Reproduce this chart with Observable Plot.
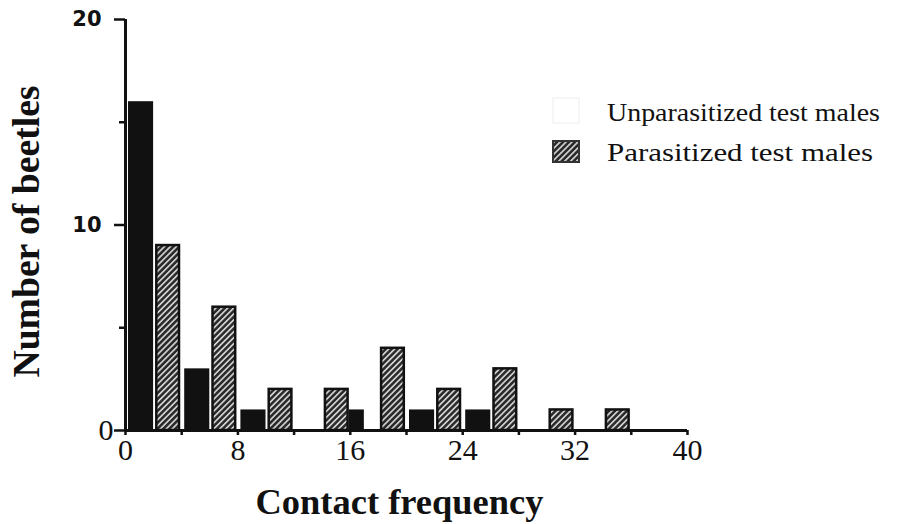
<!DOCTYPE html>
<html>
<head>
<meta charset="utf-8">
<script src="https://cdn.jsdelivr.net/npm/d3@7"></script>
<script src="https://cdn.jsdelivr.net/npm/@observablehq/plot@0.6"></script>
<style>
  body { margin: 0; background: #fff; }
  #chart { position: relative; width: 912px; height: 524px; }
  #chart svg { display: block; }
  #legend { position: absolute; left: 0; top: 0; pointer-events: none; }
</style>
</head>
<body>
<div id="chart"></div>
<script>
// Contact frequency histogram, 4-unit bins: unparasitized bars fill the left half
// of each bin, parasitized bars the right half.
const unparLo    = [0, 4, 8, 15.7, 20, 24];
const unparHi    = [2, 6, 10, 17.0, 22, 26];
const unparCount = [16, 3, 1, 1, 1, 1];

const parLo    = [2, 6, 10, 14, 18, 22, 26, 30, 34];
const parHi    = [4, 8, 12, 16, 20, 24, 28, 32, 36];
const parCount = [9, 6, 2, 2, 4, 2, 3, 1, 1];

const xDomain   = [0, 40];
const yDomain   = [0, 20];
const xTicks    = [0, 4, 8, 12, 16, 20, 24, 28, 32, 36, 40];
const xLabelled = [0, 8, 16, 24, 32, 40];
const yMajor    = [10, 20];
const yZero     = [0];
const yMinor    = [5, 15];

const seriesNames = ["Unparasitized test males", "Parasitized test males"];
const xTitle = "Contact frequency";
const yTitle = "Number of beetles";

const unparasitized = unparLo.map((lo, i) => ({lo, hi: unparHi[i], count: unparCount[i]}));
const parasitized = parLo.map((lo, i) => ({lo, hi: parHi[i], count: parCount[i]}));

const INK = "#111";
const SERIF = "'Liberation Serif', 'Times New Roman', serif";
const SANS = "'DejaVu Sans', sans-serif";

// Diagonal hatch fill shared by the bars and the legend swatch
function hatchDefs() {
  const svgNS = "http://www.w3.org/2000/svg";
  const defs = document.createElementNS(svgNS, "defs");
  defs.innerHTML = `
    <pattern id="hatch" patternUnits="userSpaceOnUse" width="4.2" height="4.2" patternTransform="rotate(45)">
      <rect width="4.2" height="4.2" fill="#2a2a2a"></rect>
      <rect x="0" width="1.7" height="4.2" fill="#cfcfcf"></rect>
    </pattern>`;
  return defs;
}

const plot = Plot.plot({
  width: 912,
  height: 524,
  marginLeft: 125,
  marginRight: 225,
  marginTop: 19,
  marginBottom: 94,
  x: {domain: xDomain},
  y: {domain: yDomain},
  style: {background: "white", color: INK, overflow: "visible"},
  marks: [
    hatchDefs,
    Plot.rect(parasitized, {
      x1: "lo", x2: "hi", y1: 0, y2: "count",
      fill: "url(#hatch)", stroke: INK, strokeWidth: 2.5,
      insetLeft: 3.2, insetRight: 2.2
    }),
    Plot.rect(unparasitized, {
      x1: "lo", x2: "hi", y1: 0, y2: "count",
      fill: INK, insetLeft: 3
    }),
    // axis lines
    Plot.ruleY([yDomain[0]], {x1: xDomain[0], x2: xDomain[1], stroke: INK, strokeWidth: 3}),
    Plot.ruleX([xDomain[0]], {y1: yDomain[0], y2: yDomain[1], stroke: INK, strokeWidth: 3}),
    // x axis: a tick every 4, labels every 8
    Plot.axisX(xTicks, {
      tickSize: 5, tickPadding: 3, strokeWidth: 2.5,
      tickFormat: d => xLabelled.includes(d) ? String(d) : "",
      fontSize: 30, fontFamily: SERIF, label: null
    }),
    // y axis
    Plot.axisY(yMajor, {
      tickSize: 11, tickPadding: 13, strokeWidth: 2.5,
      fontSize: 21, fontWeight: "bold", fontFamily: SANS, label: null
    }),
    Plot.axisY(yZero, {
      tickSize: 11, tickPadding: 1, strokeWidth: 2.5,
      fontSize: 30, fontFamily: SERIF, label: null
    }),
    Plot.axisY(yMinor, {
      tickSize: 6, strokeWidth: 2.5, tickFormat: () => "", label: null
    }),
    // axis titles
    Plot.text([xTitle], {
      frameAnchor: "bottom", lineAnchor: "bottom", textAnchor: "middle", dx: -7, dy: 83,
      fontSize: 36, fontWeight: "bold", fontFamily: SERIF, fill: INK
    }),
    Plot.text([yTitle], {
      frameAnchor: "left", lineAnchor: "bottom", textAnchor: "middle", rotate: -90, dx: -87, dy: 6.5,
      fontSize: 37, fontWeight: "bold", fontFamily: SERIF, fill: INK
    })
  ]
});

// Fit the axis titles to their set lengths
function fitText(root, content, length) {
  root.querySelectorAll("text").forEach(t => {
    if (t.textContent === content) {
      t.setAttribute("textLength", length);
      t.setAttribute("lengthAdjust", "spacingAndGlyphs");
    }
  });
}
fitText(plot, xTitle, 288);
fitText(plot, yTitle, 292);

const chart = document.getElementById("chart");
chart.appendChild(plot);

// Legend
const legend = d3.select(chart).append("svg")
  .attr("id", "legend")
  .attr("width", 912)
  .attr("height", 524);

const legendItems = [
  {name: seriesNames[0], fill: "#fff", stroke: "#eee", strokeWidth: 1, sy: 98, sh: 25, baseline: 121, len: 273},
  {name: seriesNames[1], fill: "url(#hatch)", stroke: "#333", strokeWidth: 2, sy: 141, sh: 21, baseline: 161, len: 266}
];

const item = legend.selectAll("g").data(legendItems).join("g");
item.append("rect")
  .attr("x", 553).attr("y", d => d.sy)
  .attr("width", 26).attr("height", d => d.sh)
  .attr("fill", d => d.fill)
  .attr("stroke", d => d.stroke)
  .attr("stroke-width", d => d.strokeWidth);
item.append("text")
  .attr("x", 607).attr("y", d => d.baseline)
  .attr("font-family", SERIF)
  .attr("font-size", 25)
  .attr("fill", INK)
  .attr("textLength", d => d.len)
  .attr("lengthAdjust", "spacingAndGlyphs")
  .text(d => d.name);
</script>
</body>
</html>
